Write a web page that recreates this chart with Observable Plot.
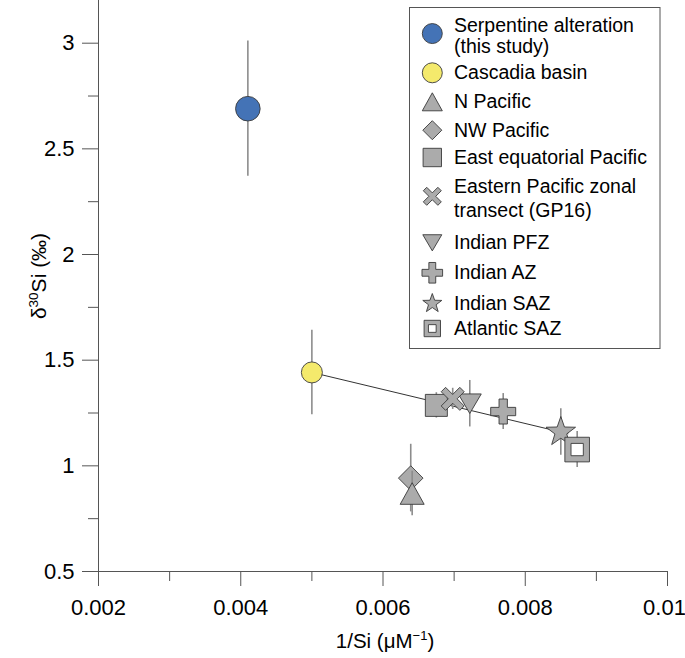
<!DOCTYPE html>
<html><head><meta charset="utf-8">
<script src="https://cdn.jsdelivr.net/npm/d3@7"></script>
<script src="https://cdn.jsdelivr.net/npm/@observablehq/plot@0.6"></script>
<style>
body{margin:0;background:#fff;}
#chart{position:relative;width:685px;height:658px;}
</style></head><body><div id="chart"></div>
<script>
// ---- data ----
const series = ["Serpentine alteration (this study)", "Cascadia basin", "N Pacific", "NW Pacific",
  "East equatorial Pacific", "Eastern Pacific zonal transect (GP16)", "Indian PFZ", "Indian AZ", "Indian SAZ", "Atlantic SAZ"];
const legendLines = [["Serpentine alteration", "(this study)"], ["Cascadia basin"], ["N Pacific"], ["NW Pacific"],
  ["East equatorial Pacific"], ["Eastern Pacific zonal", "transect (GP16)"], ["Indian PFZ"], ["Indian AZ"], ["Indian SAZ"], ["Atlantic SAZ"]];
const invSi = [0.0041, 0.0050, 0.00641, 0.00639, 0.00675, 0.00698, 0.00722, 0.00769, 0.0085, 0.00873];
const d30Si = [2.69, 1.442, 0.869, 0.942, 1.286, 1.317, 1.294, 1.257, 1.16, 1.077];
const d30SiErr = [0.32, 0.2, 0.105, 0.16, 0.06, 0.05, 0.11, 0.085, 0.11, 0.085];
const mixLineX = [0.0050, 0.0086];
const mixLineY = [1.442, 1.152];
const xTicks = [0.002, 0.004, 0.006, 0.008, 0.01];
const xTickLabels = ["0.002", "0.004", "0.006", "0.008", "0.01"];
const xMinorTicks = [0.003, 0.005, 0.007, 0.009];
const yTicks = [0.5, 1, 1.5, 2, 2.5, 3];
const yTickLabels = ["0.5", "1", "1.5", "2", "2.5", "3"];
const yMinorTicks = [0.75, 1.25, 1.75, 2.25, 2.75];

// ---- styles ----
const FONT = "'Liberation Sans', Arial, Helvetica, sans-serif";
const rad = s => Math.sqrt(s / Math.PI);
const poly = (c, pts) => { pts.forEach(([x, y], i) => i ? c.lineTo(x, y) : c.moveTo(x, y)); c.closePath(); };
const plusPts = (L, t) => [[t,-L],[t,-t],[L,-t],[L,t],[t,t],[t,L],[-t,L],[-t,t],[-L,t],[-L,-t],[-t,-t],[-t,-L]];
const symbols = {
  circle: d3.symbolCircle,
  triUp: {draw(c, s) { const r = rad(s), h = 0.9 * r; poly(c, [[0,-h],[r,h],[-r,h]]); }},
  triDown: {draw(c, s) { const r = rad(s), h = 0.85 * r; poly(c, [[-r,-h],[r,-h],[0,h]]); }},
  diamond: {draw(c, s) { const r = rad(s); poly(c, [[0,-r],[r,0],[0,r],[-r,0]]); }},
  square: {draw(c, s) { const r = rad(s); poly(c, [[-r,-r],[r,-r],[r,r],[-r,r]]); }},
  times: {draw(c, s) { const r = rad(s), t = 0.27 * r, L = Math.SQRT2 * r - t;
    poly(c, plusPts(L, t).map(([x, y]) => [(x - y) / Math.SQRT2, (x + y) / Math.SQRT2])); }},
  plus: {draw(c, s) { const r = rad(s); poly(c, plusPts(r, r / 3)); }},
  star: {draw(c, s) { const R = rad(s), pts = [];
    for (let k = 0; k < 10; k++) { const a = -Math.PI / 2 + k * Math.PI / 5, rr = k % 2 ? R * 0.4 : R; pts.push([rr * Math.cos(a), rr * Math.sin(a)]); }
    poly(c, pts); }}
};
// the Atlantic SAZ marker is a gray square with a white inner square
const seriesSymbol = ["circle", "circle", "triUp", "diamond", "square", "times", "triDown", "plus", "star", "square"];
const innerSquare = [false, false, false, false, false, false, false, false, false, true];
const seriesFill = ["#4473b6", "#f4ea6c", "#ababab", "#ababab", "#ababab", "#ababab", "#ababab", "#ababab", "#ababab", "#ababab"];
const plotR = [12.3, 10.5, 12, 12.3, 11, 11.5, 11.5, 12.5, 15.5, 12.3];
const legendR = [10, 10, 10, 9.5, 9.2, 9, 9.5, 10.3, 10, 8.2];
const innerRatio = 0.5;
const drawOrder = [0, 1, 3, 2, 4, 6, 5, 7, 8, 9];
const STROKE = "#3a3a3a";

const table = series.map((s, i) => ({s, x: invSi[i], y: d30Si[i], lo: d30Si[i] - d30SiErr[i], hi: d30Si[i] + d30SiErr[i]}));
const mixLine = mixLineX.map((x, i) => ({x, y: mixLineY[i]}));

const AX = "#555";
const marks = [
  Plot.axisX({ticks: xTicks, tickFormat: d => xTickLabels[xTicks.indexOf(d)], tickSize: 15, tickPadding: 13, stroke: AX, fill: "#000", label: null}),
  Plot.axisX({ticks: xMinorTicks, tickFormat: () => "", tickSize: 10, stroke: AX, label: null}),
  Plot.axisY({ticks: yTicks, tickFormat: d => yTickLabels[yTicks.indexOf(d)], tickSize: 16, tickPadding: 8, stroke: AX, fill: "#000", label: null}),
  Plot.axisY({ticks: yMinorTicks, tickFormat: () => "", tickSize: 10, stroke: AX, label: null}),
  Plot.ruleY([0.5], {stroke: AX, strokeWidth: 1}),
  Plot.ruleX([0.002], {stroke: AX, strokeWidth: 1}),
  Plot.line(mixLine, {x: "x", y: "y", stroke: "#333", strokeWidth: 1})
];
for (const i of drawOrder) {
  const d = [table[i]];
  marks.push(Plot.ruleX(d, {x: "x", y1: "lo", y2: "hi", stroke: "#8c8c8c", strokeWidth: 1.6}));
  marks.push(Plot.dot(d, {x: "x", y: "y", r: plotR[i], symbol: symbols[seriesSymbol[i]], fill: seriesFill[i], stroke: STROKE, strokeWidth: 0.9}));
  if (innerSquare[i]) marks.push(Plot.dot(d, {x: "x", y: "y", r: plotR[i] * innerRatio, symbol: symbols.square, fill: "#fff", stroke: STROKE, strokeWidth: 0.9}));
}

const chart = Plot.plot({
  width: 685, height: 658,
  marginLeft: 98, marginRight: 18, marginTop: 0, marginBottom: 87,
  x: {domain: [0.002, 0.01]},
  y: {domain: [0.5, 3.202]},
  style: {fontFamily: FONT, fontSize: "22px", color: "#000", background: "#fff", overflow: "visible"},
  marks
});
document.getElementById("chart").appendChild(chart);

// ---- axis titles and legend (real text) ----
const svg = d3.select(chart);
// keep the last x tick label inside the picture edge
svg.selectAll("text").filter(function () { return this.textContent === "0.01"; }).attr("dx", -3);

const xt = svg.append("text").attr("x", 385).attr("y", 648).attr("text-anchor", "middle")
  .attr("font-size", 20.5).attr("font-family", FONT).attr("fill", "#000");
xt.append("tspan").text("1/Si (\u03BCM");
xt.append("tspan").attr("font-size", 13).attr("dy", -8).text("\u22121");
xt.append("tspan").attr("dy", 8).text(")");

const yt = svg.append("text").attr("transform", "translate(46,276) rotate(-90)").attr("text-anchor", "middle")
  .attr("font-size", 21).attr("font-family", FONT).attr("fill", "#000");
yt.append("tspan").text("\u03B4");
yt.append("tspan").attr("font-size", 13.5).attr("dy", -8.5).text("30");
yt.append("tspan").attr("dy", 8.5).text("Si (\u2030)");

const legendBaselines = [[31.7, 53.4], [79.3], [108.3], [136.7], [164], [193.3, 217.3], [249.3], [279.3], [310], [335]];
const lg = svg.append("g").attr("font-family", FONT).attr("font-size", 19.5).attr("text-anchor", "start");
lg.append("rect").attr("x", 409.5).attr("y", 7.5).attr("width", 250.5).attr("height", 341)
  .attr("fill", "#fff").attr("stroke", "#555").attr("stroke-width", 1);
series.forEach((s, i) => {
  const b = legendBaselines[i];
  const sy = b.length > 1 ? (b[0] + b[1]) / 2 - 9 : b[0] - 6.5;
  const symObj = symbols[seriesSymbol[i]];
  lg.append("path").attr("d", d3.symbol(symObj, legendR[i] * legendR[i] * Math.PI)())
    .attr("transform", `translate(432.3,${sy})`).attr("fill", seriesFill[i]).attr("stroke", STROKE).attr("stroke-width", 0.9);
  if (innerSquare[i]) {
    const ri = legendR[i] * 0.47;
    lg.append("path").attr("d", d3.symbol(symbols.square, ri * ri * Math.PI)())
      .attr("transform", `translate(432.3,${sy})`).attr("fill", "#fff").attr("stroke", STROKE).attr("stroke-width", 0.9);
  }
  legendLines[i].forEach((line, k) => {
    lg.append("text").attr("x", 454).attr("y", b[k]).attr("fill", "#000").attr("text-anchor", "start").text(line);
  });
});
</script></body></html>
